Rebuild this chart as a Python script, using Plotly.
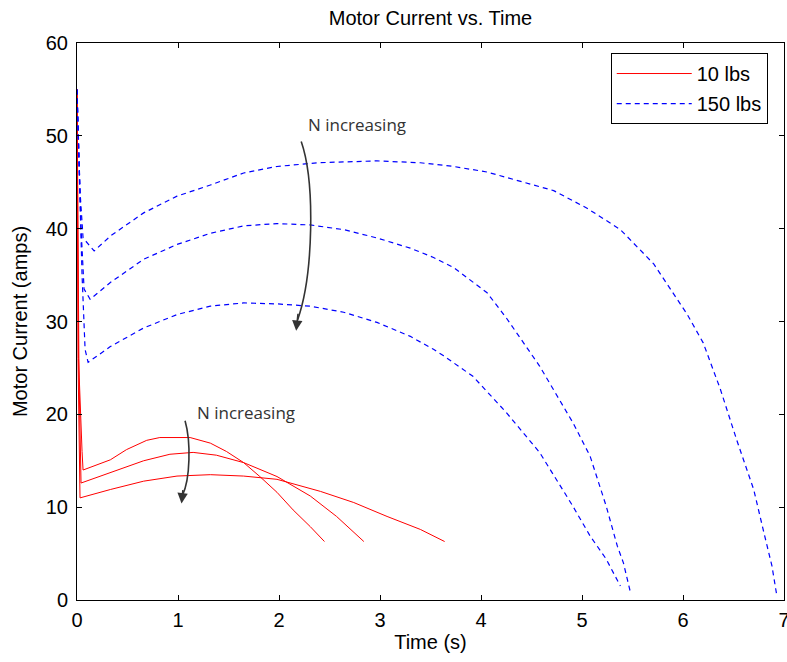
import plotly.graph_objects as go

# ---- data: 10 lbs (red, solid), three N values ----
t_r1 = [0, 0.015, 0.05, 0.06, 0.33, 0.49, 0.69, 0.82, 1.12, 1.32, 1.48, 1.65, 1.81, 1.98, 2.14, 2.31, 2.45]
i_r1 = [55, 26, 16.0, 14.0, 15.1, 16.2, 17.2, 17.5, 17.5, 16.9, 16.0, 14.8, 13.3, 11.6, 9.7, 7.9, 6.3]

t_r2 = [0, 0.02, 0.04, 0.33, 0.66, 0.92, 1.15, 1.38, 1.65, 1.98, 2.31, 2.57, 2.84]
i_r2 = [55, 24, 12.6, 13.7, 15.0, 15.7, 15.9, 15.6, 14.8, 13.3, 11.2, 9.0, 6.3]

t_r3 = [0, 0.01, 0.03, 0.33, 0.66, 0.99, 1.32, 1.65, 1.98, 2.41, 2.74, 3.07, 3.40, 3.64]
i_r3 = [55, 26, 11.0, 11.9, 12.8, 13.35, 13.5, 13.35, 13.0, 11.7, 10.5, 9.0, 7.6, 6.3]

# ---- data: 150 lbs (blue, dashed), three N values ----
t_b1 = [0, 0.03, 0.06, 0.17, 0.33, 0.66, 0.99, 1.32, 1.65, 1.98, 2.38, 2.97, 3.40, 3.73, 4.06,
        4.39, 4.72, 5.05, 5.38, 5.71, 6.04, 6.20, 6.37, 6.53, 6.70, 6.80, 6.88, 6.93]
i_b1 = [55, 44, 39, 37.6, 39.2, 41.7, 43.5, 44.7, 46.0, 46.7, 47.1, 47.3, 47.1, 46.7, 46.1,
        45.1, 44.1, 42.2, 39.9, 36.2, 30.8, 27.7, 22.7, 17.3, 11.9, 7.3, 3.7, 0.4]

t_b2 = [0, 0.04, 0.07, 0.13, 0.33, 0.66, 0.99, 1.32, 1.65, 1.98, 2.31, 2.64, 2.97, 3.30, 3.53,
        3.73, 4.06, 4.25, 4.58, 4.91, 5.08, 5.24, 5.35, 5.41, 5.48]
i_b2 = [55, 40, 33.5, 32.4, 34.2, 36.7, 38.3, 39.5, 40.3, 40.55, 40.4, 39.9, 39.0, 37.9, 36.9,
        35.8, 33.1, 30.4, 25.2, 19.1, 15.5, 10.1, 5.8, 4.0, 0.8]

t_b3 = [0, 0.05, 0.08, 0.11, 0.33, 0.66, 0.99, 1.32, 1.65, 1.98, 2.31, 2.64, 2.97, 3.30, 3.53,
        3.63, 3.92, 4.25, 4.58, 4.91, 5.08, 5.24, 5.38]
i_b3 = [55, 35, 27, 25.6, 27.3, 29.3, 30.75, 31.65, 32.0, 31.9, 31.65, 31.0, 29.9, 28.4, 27.0,
        26.3, 24.1, 20.2, 15.9, 10.1, 6.9, 4.4, 1.5]

red_series = [(t_r1, i_r1), (t_r2, i_r2), (t_r3, i_r3)]
blue_series = [(t_b1, i_b1), (t_b2, i_b2), (t_b3, i_b3)]
legend_names = ["10 lbs", "150 lbs"]
x_ticks = [0, 1, 2, 3, 4, 5, 6, 7]
y_ticks = [0, 10, 20, 30, 40, 50, 60]

fig = go.Figure()
for k, (t, i) in enumerate(red_series):
    fig.add_trace(go.Scatter(x=t, y=i, mode="lines", name=legend_names[0],
                             legendgroup="a", showlegend=(k == 0),
                             line=dict(color="#FF0000", width=1)))
for k, (t, i) in enumerate(blue_series):
    fig.add_trace(go.Scatter(x=t, y=i, mode="lines", name=legend_names[1],
                             legendgroup="b", showlegend=(k == 0),
                             line=dict(color="#0000FF", width=1.2, dash="5px,4px")))

base = "Liberation Sans, Arial, sans-serif"
tick_font = dict(family=base, size=20, color="black")
label_font = dict(family=base, size=20, color="black")

fig.update_xaxes(range=[0, 7], tickvals=x_ticks, showline=True, linecolor="black", linewidth=1,
                 mirror="ticks", ticks="inside", ticklen=5, tickcolor="black", ticklabelstandoff=2,
                 ticklabeloverflow="allow",
                 showgrid=False, zeroline=False, tickfont=tick_font, automargin=False,
                 title=dict(text="Time (s)", font=label_font, standoff=4))
fig.update_yaxes(range=[0, 60], tickvals=y_ticks, showline=True, linecolor="black", linewidth=1,
                 mirror="ticks", ticks="inside", ticklen=5, tickcolor="black", ticklabelstandoff=4,
                 ticklabeloverflow="allow",
                 showgrid=False, zeroline=False, tickfont=tick_font, automargin=False,
                 title=dict(text="Motor Current (amps)", font=label_font, standoff=12))

# curved "N increasing" arrows
ann_font = dict(family="Open Sans, Noto Sans, sans-serif", size=17, color="#333333")
fig.add_shape(type="path", xref="x", yref="y",
              path="M 2.22,49.4 C 2.36,45 2.34,35 2.185,30.2",
              line=dict(color="#333333", width=1.6))
fig.add_annotation(x=2.17, y=29.0, ax=2.19, ay=31.0, xref="x", yref="y", axref="x", ayref="y",
                   showarrow=True, arrowhead=2, arrowsize=1.3, arrowwidth=1.6, arrowcolor="#333333", text="")
fig.add_annotation(x=2.77, y=51.2, xref="x", yref="y", text="N increasing", showarrow=False, font=ann_font)

fig.add_shape(type="path", xref="x", yref="y",
              path="M 1.07,19.3 C 1.13,17 1.12,13 1.045,11.3",
              line=dict(color="#333333", width=1.6))
fig.add_annotation(x=1.035, y=10.4, ax=1.05, ay=12.0, xref="x", yref="y", axref="x", ayref="y",
                   showarrow=True, arrowhead=2, arrowsize=1.3, arrowwidth=1.6, arrowcolor="#333333", text="")
fig.add_annotation(x=1.67, y=20.2, xref="x", yref="y", text="N increasing", showarrow=False, font=ann_font)

fig.update_layout(
    width=787, height=662,
    margin=dict(l=77, r=3, t=43, b=62, autoexpand=False),
    paper_bgcolor="white", plot_bgcolor="white",
    title=dict(text="Motor Current vs. Time", x=0.547, xanchor="center", y=0.973, yanchor="middle",
               font=dict(family=base, size=20, color="black")),
    legend=dict(x=0.977, y=0.982, xanchor="right", yanchor="top",
                bgcolor="white", bordercolor="black", borderwidth=1,
                font=dict(family=base, size=20, color="black"),
                traceorder="grouped", tracegroupgap=1, itemwidth=75),
    showlegend=True,
)

fig.write_html("out.html", config={"displayModeBar": False},
               post_script="document.body.style.margin='0px';")
